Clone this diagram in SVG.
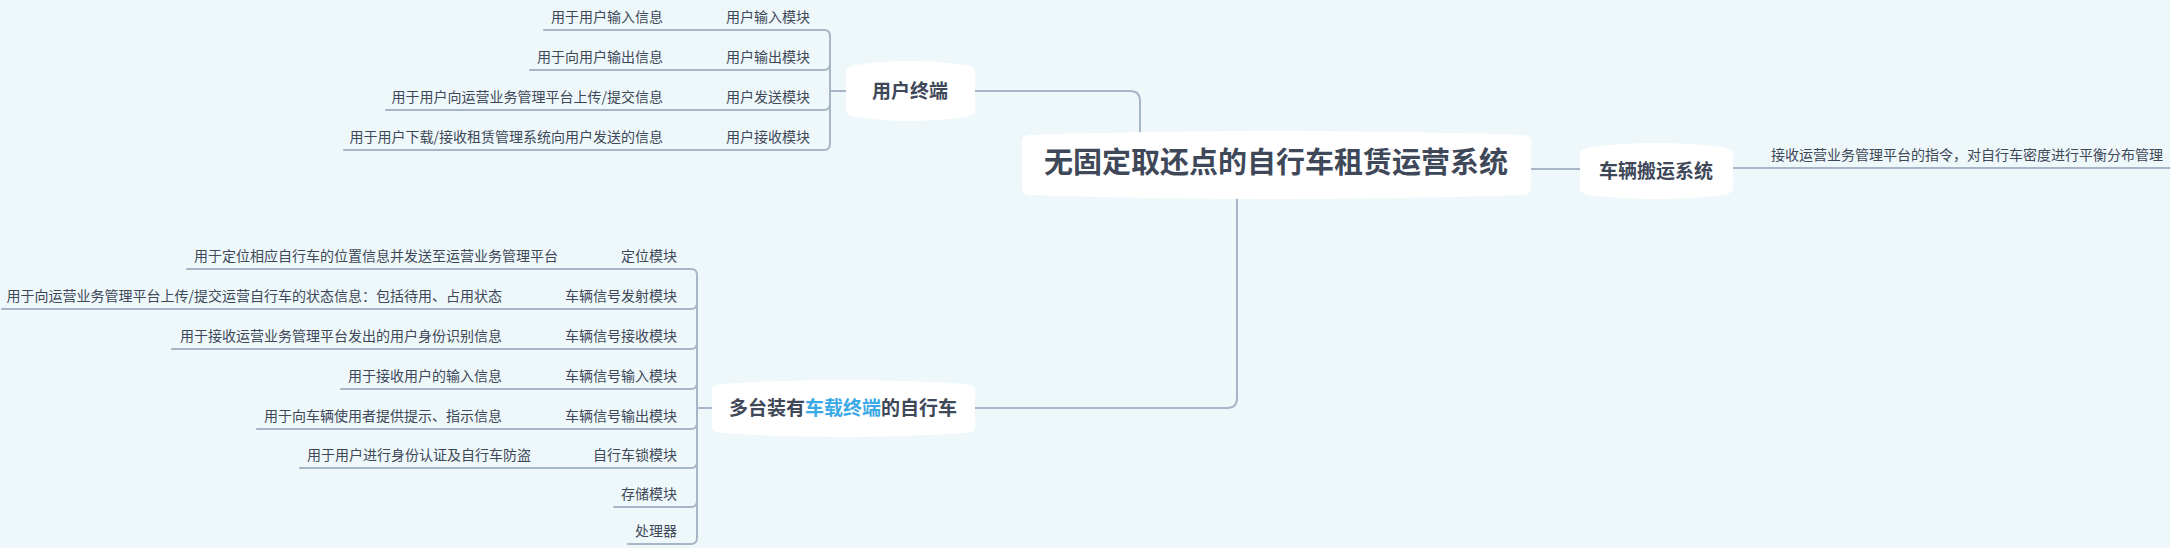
<svg xmlns="http://www.w3.org/2000/svg" width="2170" height="548" viewBox="0 0 2170 548">
<style>
.bg{fill:#eef8fb}
.node{fill:#ffffff}
.ln{fill:none;stroke:#a7b6c6;stroke-width:2;stroke-linecap:round}
text{font-family:"Noto Sans CJK SC","Liberation Sans",sans-serif;fill:#3e4858}
.t{font-size:14px;text-anchor:end}
.h{font-size:19px;font-weight:bold;text-anchor:middle}
.c{font-size:29px;font-weight:bold;text-anchor:middle}
</style>
<rect class="bg" width="2170" height="548"/>
<g id="connectors">
<path class="ln" d="M975 91 H1130 Q1140 91 1140 101 V133"/>
<path class="ln" d="M1531 169 H1580"/>
<path class="ln" d="M1733 168 H2170"/>
<path class="ln" d="M1237 197 V398 Q1237 408 1227 408 H975"/>
<path class="ln" d="M846 91 H830"/>
<path class="ln" d="M544 30 H824 Q830 30 830 36 V144 Q830 150 824 150 H344"/>
<path class="ln" d="M830 64 Q830 70 824 70 H530"/>
<path class="ln" d="M830 104 Q830 110 824 110 H386"/>
<path class="ln" d="M712 408 H697"/>
<path class="ln" d="M187 269 H691 Q697 269 697 275 V538 Q697 544 691 544 H628"/>
<path class="ln" d="M697 303 Q697 309 691 309 H2"/>
<path class="ln" d="M697 343 Q697 349 691 349 H172"/>
<path class="ln" d="M697 383 Q697 389 691 389 H341"/>
<path class="ln" d="M697 423 Q697 429 691 429 H257"/>
<path class="ln" d="M697 462 Q697 468 691 468 H300"/>
<path class="ln" d="M697 501 Q697 507 691 507 H614"/>
</g>
<g id="center">
<path class="node" d="M1022 141 Q1022 136 1030 135 Q1276 127 1523 135 Q1531 136 1531 141 V189 Q1531 194 1523 195 Q1276 203 1030 195 Q1022 194 1022 189 Z"/>
<text class="c" x="1276" y="173">无固定取还点的自行车租赁运营系统</text>
</g>
<g id="user">
<path class="node" d="M846 71 Q846 67 856 65 Q910 57 965 65 Q975 67 975 71 V111 Q975 115 965 117 Q910 125 856 117 Q846 115 846 111 Z"/>
<text class="h" x="910" y="98">用户终端</text>
<text class="t" x="810" y="22">用户输入模块</text>
<text class="t" x="663" y="22">用于用户输入信息</text>
<text class="t" x="810" y="62">用户输出模块</text>
<text class="t" x="663" y="62">用于向用户输出信息</text>
<text class="t" x="810" y="102">用户发送模块</text>
<text class="t" x="663" y="102">用于用户向运营业务管理平台上传/提交信息</text>
<text class="t" x="810" y="142">用户接收模块</text>
<text class="t" x="663" y="142">用于用户下载/接收租赁管理系统向用户发送的信息</text>
</g>
<g id="transport">
<path class="node" d="M1580 153 Q1580 149 1590 147 Q1656 139 1723 147 Q1733 149 1733 153 V189 Q1733 193 1723 195 Q1656 203 1590 195 Q1580 193 1580 189 Z"/>
<text class="h" x="1656" y="178">车辆搬运系统</text>
<text font-size="14" x="1771" y="160">接收运营业务管理平台的指令，对自行车密度进行平衡分布管理</text>
</g>
<g id="bike">
<path class="node" d="M712 389 Q712 385 722 384 Q843 376 965 384 Q975 385 975 389 V428 Q975 432 965 433 Q843 441 722 433 Q712 432 712 428 Z"/>
<text class="h" x="843" y="415">多台装有<tspan fill="#3aa9e6">车载终端</tspan>的自行车</text>
<text class="t" x="677" y="261">定位模块</text>
<text class="t" x="558" y="261">用于定位相应自行车的位置信息并发送至运营业务管理平台</text>
<text class="t" x="677" y="301">车辆信号发射模块</text>
<text class="t" x="502" y="301">用于向运营业务管理平台上传/提交运营自行车的状态信息：包括待用、占用状态</text>
<text class="t" x="677" y="341">车辆信号接收模块</text>
<text class="t" x="502" y="341">用于接收运营业务管理平台发出的用户身份识别信息</text>
<text class="t" x="677" y="381">车辆信号输入模块</text>
<text class="t" x="502" y="381">用于接收用户的输入信息</text>
<text class="t" x="677" y="421">车辆信号输出模块</text>
<text class="t" x="502" y="421">用于向车辆使用者提供提示、指示信息</text>
<text class="t" x="677" y="460">自行车锁模块</text>
<text class="t" x="531" y="460">用于用户进行身份认证及自行车防盗</text>
<text class="t" x="677" y="499">存储模块</text>
<text class="t" x="677" y="536">处理器</text>
</g>
</svg>
